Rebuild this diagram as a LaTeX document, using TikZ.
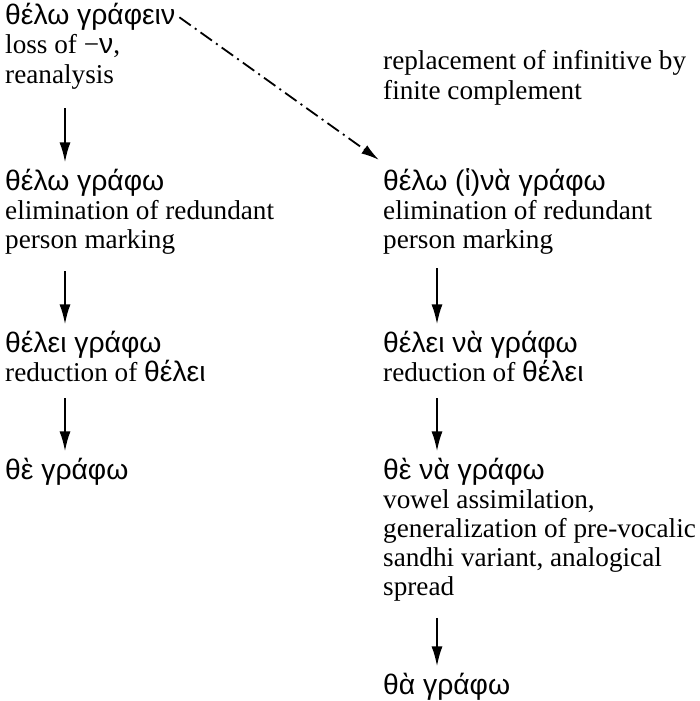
\documentclass[tikz,border=0pt]{standalone}
\usepackage{fontspec}
\setmainfont{Liberation Serif}
\newfontfamily\grk[Scale=1.04]{Liberation Sans}
\usetikzlibrary{arrows.meta}
\newcommand{\gr}[1]{{\grk #1}}

\begin{document}
\begin{tikzpicture}[x=1pt, y=-1pt,
  stage/.style={anchor=base west, inner sep=0pt, align=left, font=\fontsize{27.2}{29}\selectfont},
  dev/.style={-{Latex[length=20pt,width=11pt]}, line width=2.2pt},
  repl/.style={-{Latex[length=18pt,width=10pt]}, line width=1.8pt, dash pattern=on 14pt off 5pt on 2pt off 5pt}]
\useasboundingbox (0,0) rectangle (699,701);
% left column: development without a finite complement
\node[stage] (h1) at (5,25) {\gr{θέλω γράφειν}};
\node[stage] (n1) at (5,83) {loss of −\gr{ν},\\reanalysis};
\node[stage] (h2) at (5,190) {\gr{θέλω γράφω}};
\node[stage] (n2) at (5,248) {elimination of redundant\\person marking};
\node[stage] (h3) at (5,352) {\gr{θέλει γράφω}};
\node[stage] (n3) at (5,381) {reduction of \gr{θέλει}};
\node[stage] (h4) at (5,479) {\gr{θὲ γράφω}};
% right column: replacement by a finite complement
\node[stage] (n0) at (383,99) {replacement of infinitive by\\finite complement};
\node[stage] (rh1) at (383,190) {\gr{θέλω (ἱ)νὰ γράφω}};
\node[stage] (rn1) at (383,248) {elimination of redundant\\person marking};
\node[stage] (rh2) at (383,352) {\gr{θέλει νὰ γράφω}};
\node[stage] (rn2) at (383,381) {reduction of \gr{θέλει}};
\node[stage] (rh3) at (383,479) {\gr{θὲ νὰ γράφω}};
\node[stage] (rn3) at (383,595) {vowel assimilation,\\generalization of pre-vocalic\\sandhi variant, analogical\\spread};
\node[stage] (rh4) at (383,694) {\gr{θὰ γράφω}};
% arrows
\draw[dev] ([xshift=60pt,yshift=-19pt]n1.south west) -- ([xshift=60pt,yshift=6pt]h2.north west);
\draw[dev] ([xshift=60pt,yshift=-17pt]n2.south west) -- ([xshift=60pt,yshift=6pt]h3.north west);
\draw[dev] ([xshift=60pt,yshift=-17pt]n3.south west) -- ([xshift=60pt,yshift=6pt]h4.north west);
\draw[dev] ([xshift=54pt,yshift=-14pt]rn1.south west) -- ([xshift=54pt,yshift=6pt]rh2.north west);
\draw[dev] ([xshift=54pt,yshift=-17pt]rn2.south west) -- ([xshift=54pt,yshift=6pt]rh3.north west);
\draw[dev] ([xshift=54pt,yshift=-17pt]rn3.south west) -- ([xshift=54pt,yshift=6pt]rh4.north west);
\draw[repl] ([xshift=4pt]h1.east) -- ([xshift=-4pt,yshift=8pt]rh1.north west);
\end{tikzpicture}
\end{document}
